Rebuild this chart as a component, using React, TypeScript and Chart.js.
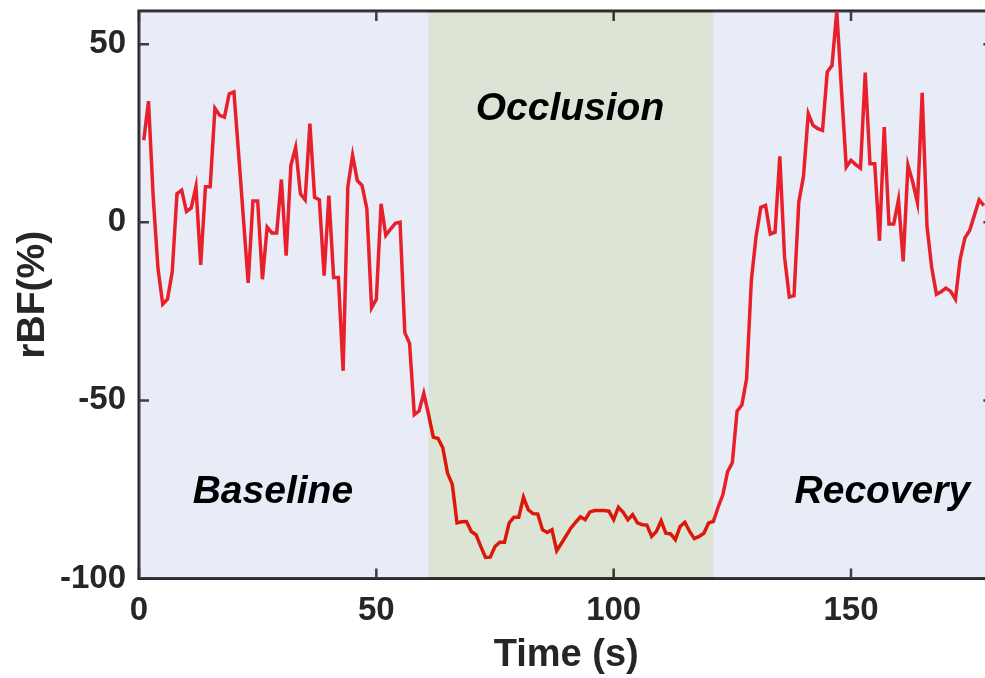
import React, { useEffect, useRef } from "react";
import { Chart, registerables } from "chart.js";

Chart.register(...registerables);

// Relative blood flow (%), sampled once per second, split by protocol phase.
const baselineStart = 1;
const baselineValues = [
  23, 34, 7, -13, -23, -21.6, -14, 8, 9, 3,
  4, 10, -12, 10, 10, 32, 30, 29.5, 36, 36.6,
  19, 1, -17, 6, 6, -16, -1.4, -3, -3, 12,
  -9.4, 16, 21, 8, 6.3, 27.7, 7, 6.3, -15, 7.5,
  -15.5, -15.5, -41.7, 10, 18.8, 11.7, 10.3, 3.8, -24, -21.6,
  5.2, -3.7, -1.9, -0.3, 0, -31, -34, -54, -53, -48,
];

const occlusionStart = 61;
const occlusionValues = [
  -54, -60.3, -60.7, -63.3, -70.4, -73.6, -84.4, -84.1, -84, -86.8,
  -87.7, -91, -94.1, -94, -91, -89.8, -89.8, -84.4, -82.8, -82.8,
  -77.2, -80.7, -81.8, -81.9, -86.3, -87.1, -86.3, -92.2, -90.1, -88,
  -85.8, -84.2, -82.7, -83.5, -81.3, -80.9, -80.9, -80.9, -81.1, -83.5,
  -80, -81.4, -83.5, -82.1, -84.4, -84.9, -85, -88.2, -86.8, -83.8,
  -87.3, -87.5, -89.1, -85.4, -84.2, -86.8, -88.8, -88.2, -87.3, -84.4,
];

const recoveryStart = 121;
const recoveryValues = [
  -84, -80, -76.5, -70, -67.5, -53, -51.3, -44, -16.4, -4,
  4.2, 4.7, -3.3, -2.8, 18.5, -9.8, -21, -20.6, 5.6, 13,
  30.5, 27.2, 26.3, 25.8, 42.2, 44, 59.3, 37, 15.5, 17.4,
  16.2, 15.2, 42, 16.4, 16.4, -5.2, 26.7, -0.5, -0.5, 6.3,
  -11, 16, 11.3, 5.5, 36.3, -1, -12.7, -20.2, -19.5, -18.5,
  -19.4, -21.6, -10.3, -4.4, -2.3, 2, 6.3, 4.7,
];

// Phase boundaries (s) and their names
const phaseNames = ["Baseline", "Occlusion", "Recovery"];
const phaseEdges = [0, 61, 121, 180];
// Where each phase name sits, in data units (time, rBF)
const phaseLabelTimes = [28.2, 90.8, 156.6];
const phaseLabelLevels = [-78.8, 28.7, -78.8];

const xTicks = [0, 50, 100, 150];
const yTicks = [-100, -50, 0, 50];
const xRange = [0, 180];
const yRange = [-100, 59.3];

function toPoints(start: number, values: number[]) {
  return values.map((v, i) => ({ x: start + i, y: v }));
}

const series = [
  ...toPoints(baselineStart, baselineValues),
  ...toPoints(occlusionStart, occlusionValues),
  ...toPoints(recoveryStart, recoveryValues),
];

const FONT = "'Liberation Sans', Arial, Helvetica, sans-serif";
const INK = "#262626";
const phaseFills = ["rgba(140,160,215,0.2)", "rgba(80,120,50,0.2)", "rgba(140,160,215,0.2)"];

const framePlugin = {
  id: "frame",
  beforeDatasetsDraw(chart: any) {
    const { ctx, chartArea: a, scales } = chart;
    const x = scales.x;
    const y = scales.y;
    const tick = 10;
    ctx.save();
    ctx.strokeStyle = INK;
    ctx.lineWidth = 3;
    ctx.lineCap = "butt";
    ctx.strokeRect(a.left, a.top, a.right - a.left, a.bottom - a.top);
    ctx.lineWidth = 2.5;
    ctx.beginPath();
    for (const v of xTicks) {
      const px = x.getPixelForValue(v);
      ctx.moveTo(px, a.bottom);
      ctx.lineTo(px, a.bottom - tick);
      ctx.moveTo(px, a.top);
      ctx.lineTo(px, a.top + tick);
    }
    for (const v of yTicks) {
      const py = y.getPixelForValue(v);
      ctx.moveTo(a.left, py);
      ctx.lineTo(a.left + tick, py);
      ctx.moveTo(a.right, py);
      ctx.lineTo(a.right - tick, py);
    }
    ctx.stroke();
    ctx.restore();
  },
  afterDatasetsDraw(chart: any) {
    const { ctx, chartArea: a, scales } = chart;
    const x = scales.x;
    ctx.save();
    for (let i = 0; i < phaseNames.length; i++) {
      const x0 = x.getPixelForValue(phaseEdges[i]);
      const x1 = x.getPixelForValue(phaseEdges[i + 1]);
      ctx.fillStyle = phaseFills[i];
      ctx.fillRect(x0, a.top, x1 - x0, a.bottom - a.top);
    }
    ctx.restore();
  },
  afterDraw(chart: any) {
    const { ctx, scales } = chart;
    ctx.save();
    ctx.fillStyle = "#000000";
    ctx.font = `italic bold 39px ${FONT}`;
    ctx.textAlign = "center";
    ctx.textBaseline = "alphabetic";
    for (let i = 0; i < phaseNames.length; i++) {
      ctx.fillText(
        phaseNames[i],
        scales.x.getPixelForValue(phaseLabelTimes[i]),
        scales.y.getPixelForValue(phaseLabelLevels[i])
      );
    }
    ctx.restore();
  },
};

export default function App() {
  const canvasRef = useRef<HTMLCanvasElement | null>(null);

  useEffect(() => {
    const canvas = canvasRef.current;
    if (!canvas) return;
    const chart = new Chart(canvas, {
      type: "line",
      data: {
        datasets: [
          {
            data: series,
            borderColor: "#ff0000",
            borderWidth: 3.5,
            pointRadius: 0,
            tension: 0,
            fill: false,
          },
        ],
      },
      options: {
        responsive: false,
        animation: false,
        devicePixelRatio: 1,
        layout: { padding: { top: 11, right: 6.6, left: 0, bottom: 0 } },
        plugins: {
          legend: { display: false },
          tooltip: { enabled: false },
        },
        scales: {
          x: {
            type: "linear",
            min: xRange[0],
            max: xRange[1],
            afterBuildTicks: (scale: any) => {
              scale.ticks = xTicks.map((v) => ({ value: v }));
            },
            afterFit: (scale: any) => {
              scale.height = 99.5;
              scale.paddingLeft = 0;
              scale.paddingRight = 0;
            },
            grid: { display: false, drawTicks: false },
            border: { display: false },
            ticks: {
              padding: 13,
              color: INK,
              maxRotation: 0,
              autoSkip: false,
              font: { family: FONT, size: 33, weight: "bold" },
            },
            title: {
              display: true,
              text: "Time (s)",
              color: INK,
              padding: { top: 0, bottom: 0 },
              font: { family: FONT, size: 38, weight: "bold" },
            },
          },
          y: {
            type: "linear",
            min: yRange[0],
            max: yRange[1],
            afterBuildTicks: (scale: any) => {
              scale.ticks = yTicks.map((v) => ({ value: v }));
            },
            afterFit: (scale: any) => {
              scale.width = 139;
              scale.paddingTop = 0;
              scale.paddingBottom = 0;
            },
            grid: { display: false, drawTicks: false },
            border: { display: false },
            ticks: {
              padding: 13,
              color: INK,
              autoSkip: false,
              font: { family: FONT, size: 33, weight: "bold" },
            },
            title: {
              display: true,
              text: "rBF(%)",
              color: INK,
              padding: { top: 10, bottom: 0 },
              font: { family: FONT, size: 39, weight: "bold" },
            },
          },
        },
      },
      plugins: [framePlugin],
    } as any);
    return () => chart.destroy();
  }, []);

  return (
    <div
      style={{
        position: "fixed",
        left: 0,
        top: 0,
        width: 985,
        height: 678,
        overflow: "hidden",
        background: "#ffffff",
      }}
    >
      <canvas
        ref={canvasRef}
        width={1000}
        height={678}
        style={{ display: "block", width: 1000, height: 678 }}
      />
    </div>
  );
}
